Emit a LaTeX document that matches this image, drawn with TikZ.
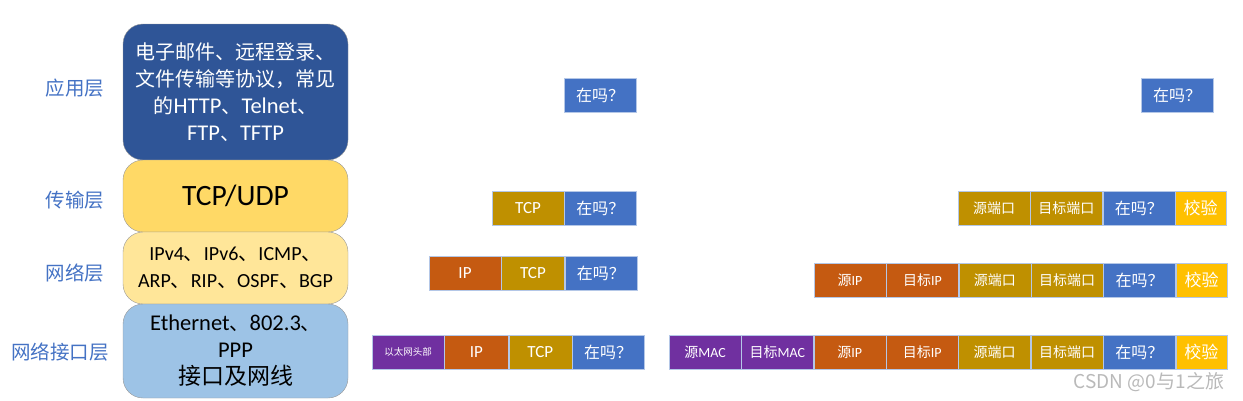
\documentclass[tikz,border=0pt]{standalone}
\usepackage{fontspec}
\setmainfont{Carlito}
\newfontfamily\cjk{Noto Sans CJK SC}
\usetikzlibrary{positioning}

\definecolor{appblue}{HTML}{2F5597}
\definecolor{tpyellow}{HTML}{FFD966}
\definecolor{nwyellow}{HTML}{FFE699}
\definecolor{lkblue}{HTML}{9DC3E6}
\definecolor{lblblue}{HTML}{4472C4}
\definecolor{datablue}{HTML}{4472C4}
\definecolor{tcpgold}{HTML}{BF9000}
\definecolor{iporange}{HTML}{C55A11}
\definecolor{macpurple}{HTML}{7030A0}
\definecolor{chkgold}{HTML}{FFC000}
\definecolor{cellline}{HTML}{B4C7E7}

\newcommand\zhtw[1]{{\cjk\fontsize{20}{27}\selectfont #1}}

\begin{document}
\begin{tikzpicture}[x=1pt,y=-1pt]
\tikzset{layer/.style = {shape=rectangle,draw=gray!80,rounded corners=20pt,minimum width=225pt,align=center,inner sep=0pt}}
\tikzset{lbl/.style = {text=lblblue,font=\cjk\fontsize{19.5}{20}\selectfont}}
\tikzset{cell/.style = {shape=rectangle,draw=cellline,minimum width=72pt,minimum height=34pt,inner sep=0pt,text=white,font=\fontsize{17}{17}\selectfont}}
\tikzset{small/.style = {font=\fontsize{14}{14}\selectfont}}
\tikzset{data/.style = {cell,fill=datablue,font=\cjk\fontsize{16}{16}\selectfont}}
\tikzset{tcp/.style = {cell,fill=tcpgold}}
\tikzset{ip/.style = {cell,fill=iporange}}
\tikzset{mac/.style = {cell,fill=macpurple}}
\tikzset{chk/.style = {cell,fill=chkgold,minimum width=51pt,font=\cjk\fontsize{17}{17}\selectfont}}
\useasboundingbox (0,0) rectangle (1243,400);

% layers
\node[layer,fill=appblue,minimum height=136pt,text=white,font=\fontsize{22.5}{27}\selectfont] (app) at (235.5,92)
  {\zhtw{电子邮件、远程登录、}\\\zhtw{文件传输等协议，常见}\\\zhtw{的}HTTP\zhtw{、}Telnet\zhtw{、}\\FTP\zhtw{、}TFTP};
\node[layer,fill=tpyellow,minimum height=72pt,font=\fontsize{29.5}{29.5}\selectfont] (trans) at (235.5,196) {TCP/UDP};
\node[layer,fill=nwyellow,minimum height=72pt,font=\fontsize{20}{27}\selectfont] (net) at (235.5,268)
  {IPv4\zhtw{、}IPv6\zhtw{、}ICMP\zhtw{、}\\ARP\zhtw{、}RIP\zhtw{、}OSPF\zhtw{、}BGP};
\node[layer,fill=lkblue,minimum height=94pt,font=\fontsize{22.5}{27}\selectfont] (link) at (235.5,351)
  {Ethernet\zhtw{、}802.3\zhtw{、}\\PPP\\{\cjk\fontsize{23}{23}\selectfont 接口及网线}};

\node[lbl] (lapp) at (75,88) {应用层};
\node[lbl] (ltrans) at (75,200) {传输层};
\node[lbl] (lnet) at (75,273) {网络层};
\node[lbl] (llink) at (60,352) {网络接口层};

% packets, middle
\node[data] (m1d) at (600,95) {在吗？};

\node[tcp] (m2t) at (528,208) {TCP};
\node[data,right=0pt of m2t] (m2d) {在吗？};

\node[ip] (m3i) at (465,273.5) {IP};
\node[tcp,minimum width=63pt,right=0pt of m3i] (m3t) {TCP};
\node[data,right=0pt of m3t] (m3d) {在吗？};

\node[mac,font=\cjk\fontsize{9.5}{10}\selectfont] (m4e) at (408,352) {以太网头部};
\node[ip,minimum width=64pt,right=0pt of m4e] (m4i) {IP};
\node[tcp,minimum width=63pt,right=0pt of m4i] (m4t) {TCP};
\node[data,right=0pt of m4t] (m4d) {在吗？};

% packets, right
\node[data] (r1d) at (1177,95) {在吗？};

\node[tcp,small] (r2s) at (994,208) {{\cjk 源端口}};
\node[tcp,small,right=0pt of r2s] (r2p) {{\cjk 目标端口}};
\node[data,right=0pt of r2p] (r2d) {在吗？};
\node[chk,right=0pt of r2d] (r2c) {校验};

\node[ip,small] (r3s) at (850,280) {{\cjk 源}IP};
\node[ip,small,right=0pt of r3s] (r3p) {{\cjk 目标}IP};
\node[tcp,small,right=0pt of r3p] (r3t) {{\cjk 源端口}};
\node[tcp,small,right=0pt of r3t] (r3u) {{\cjk 目标端口}};
\node[data,right=0pt of r3u] (r3d) {在吗？};
\node[chk,right=0pt of r3d] (r3c) {校验};

\node[mac,small] (r4m) at (705,352) {{\cjk 源}MAC};
\node[mac,small,right=0pt of r4m] (r4n) {{\cjk 目标}MAC};
\node[ip,small,right=0pt of r4n] (r4s) {{\cjk 源}IP};
\node[ip,small,right=0pt of r4s] (r4p) {{\cjk 目标}IP};
\node[tcp,small,right=0pt of r4p] (r4t) {{\cjk 源端口}};
\node[tcp,small,right=0pt of r4t] (r4u) {{\cjk 目标端口}};
\node[data,right=0pt of r4u] (r4d) {在吗？};
\node[chk,right=0pt of r4d] (r4c) {校验};

\node[text=gray!55,font=\cjk\fontsize{19}{19}\selectfont] (mark) at (1149,382) {CSDN @0与1之旅};
\end{tikzpicture}
\end{document}
